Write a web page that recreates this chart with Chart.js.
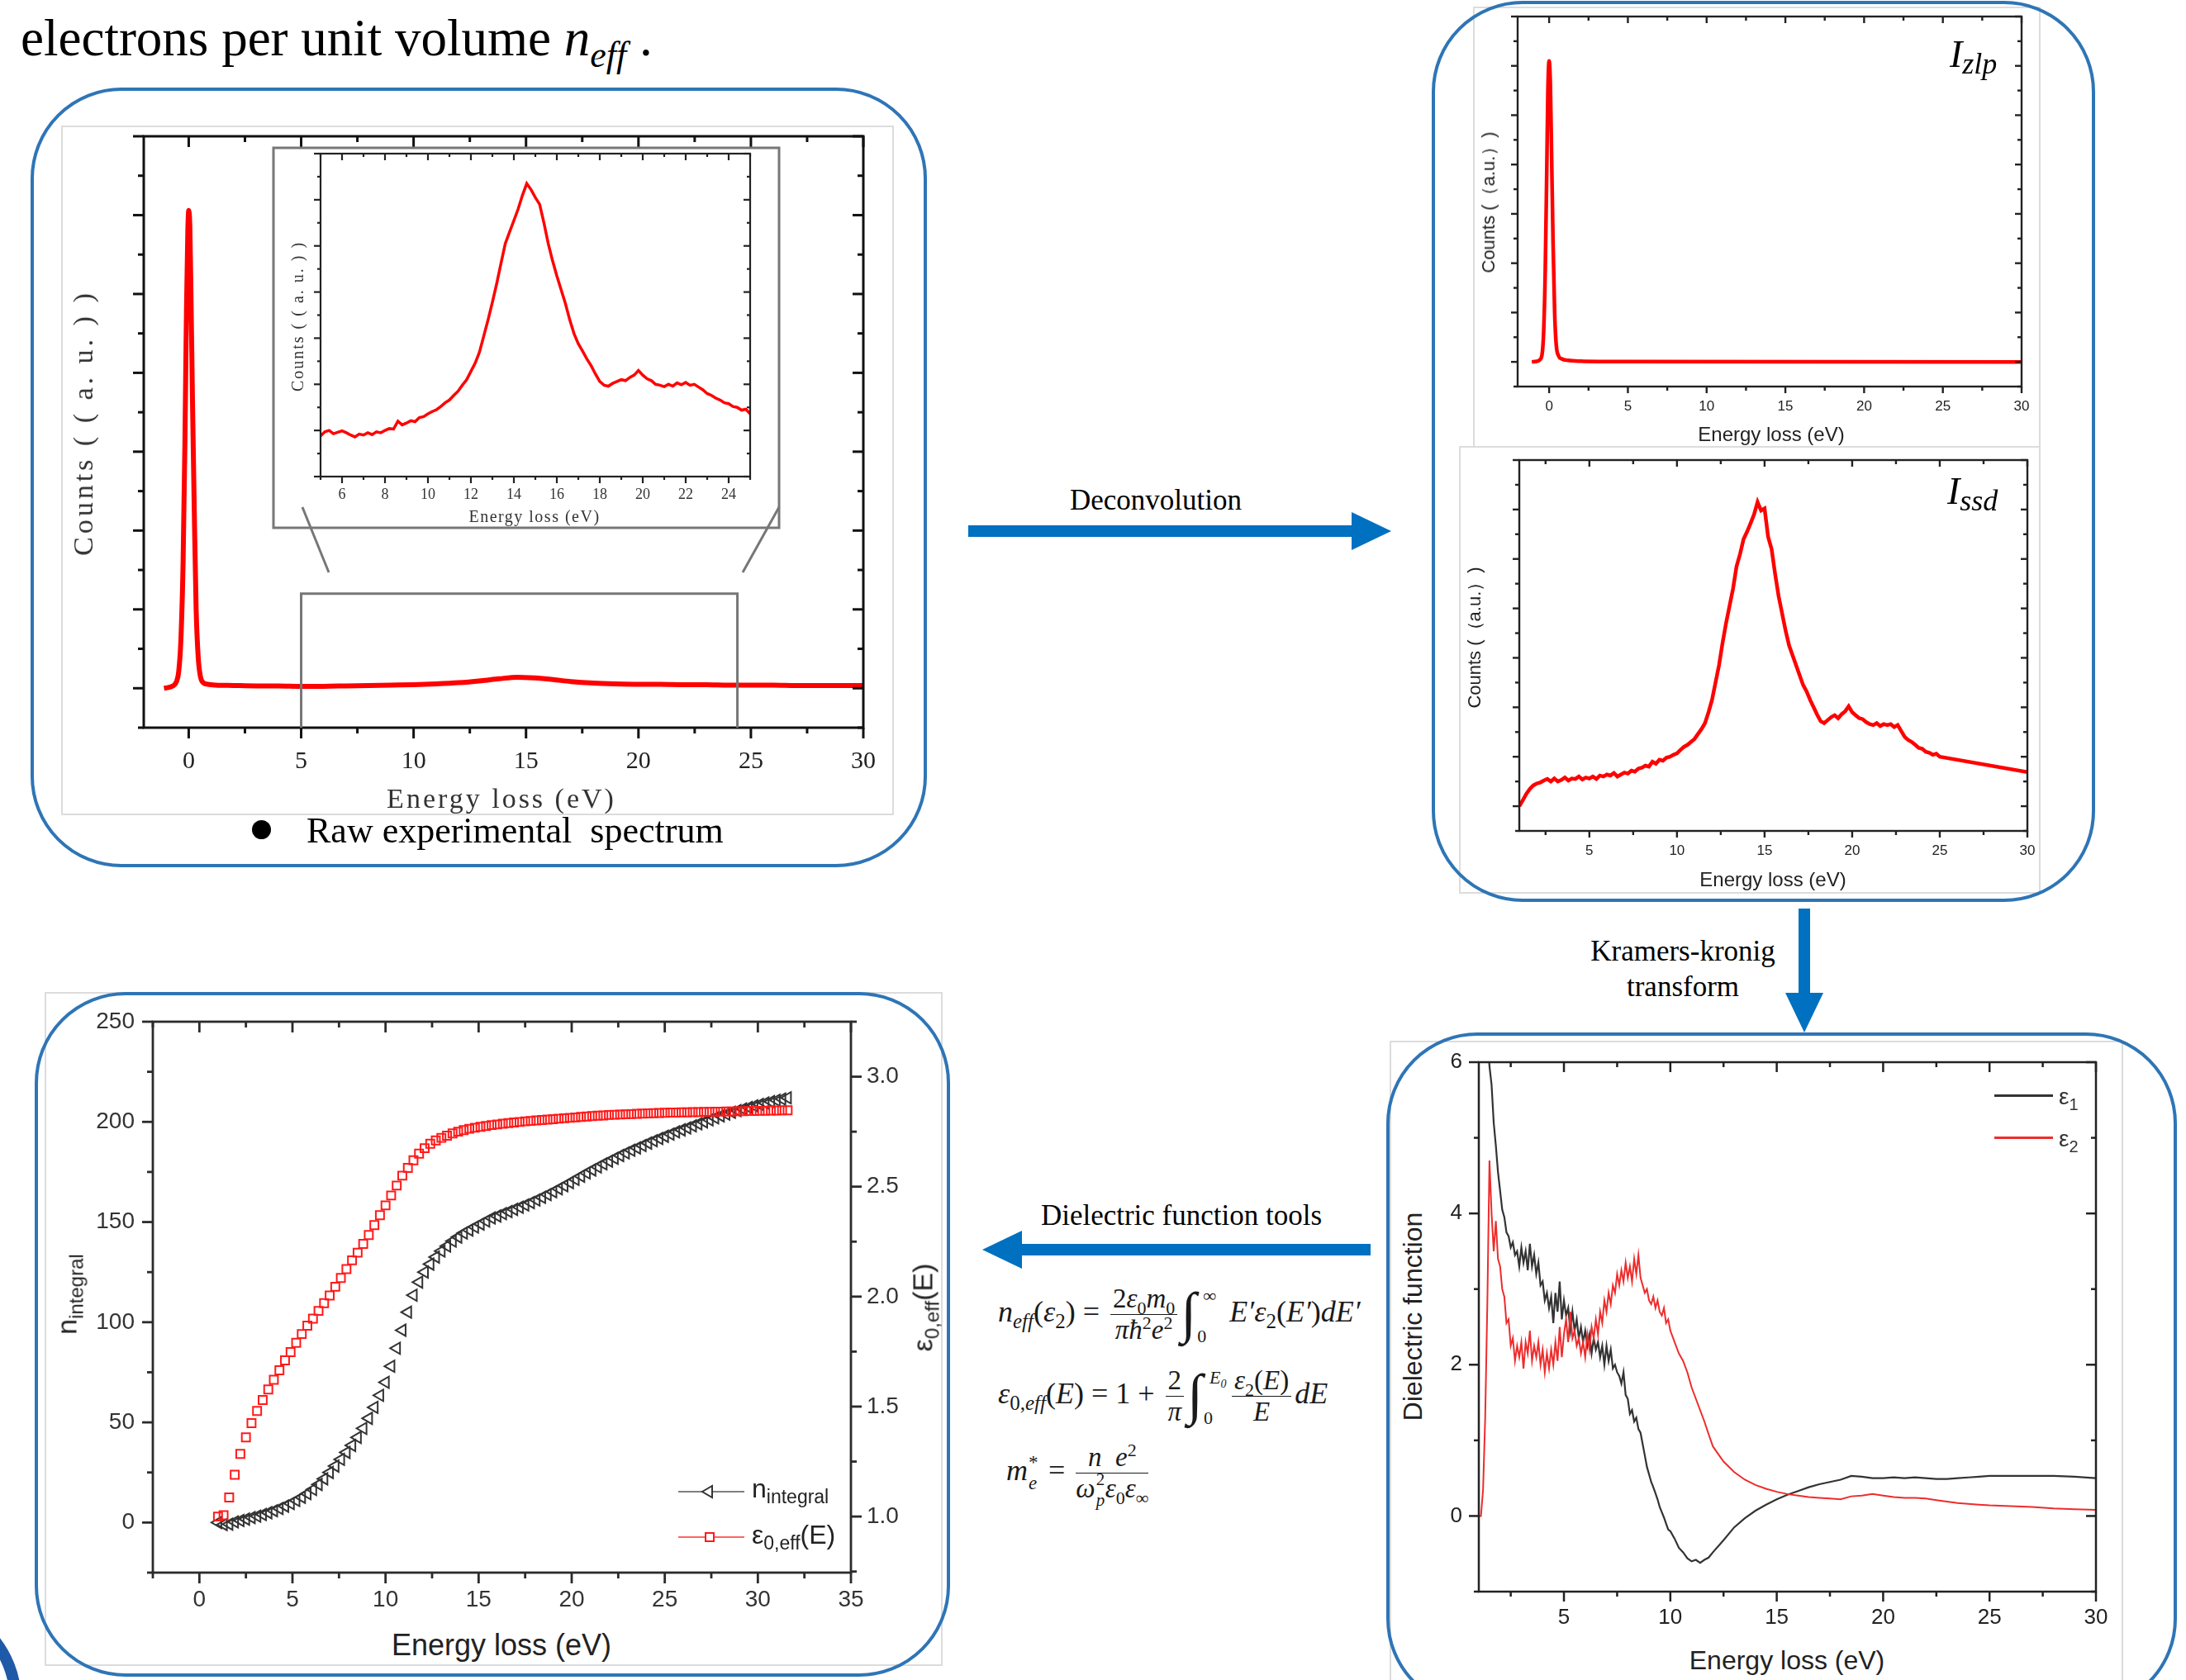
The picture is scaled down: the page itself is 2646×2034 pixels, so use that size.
<!DOCTYPE html>
<html lang="en">
<head>
<meta charset="utf-8">
<title>EELS: deconvolution and dielectric function</title>
<script src="https://cdn.jsdelivr.net/npm/chart.js@4.4.1/dist/chart.umd.min.js"></script>
<style>
  html, body { margin: 0; padding: 0; background: #fff; }
  body { position: relative; width: 2646px; height: 2034px; overflow: hidden; font-family: "Liberation Serif", "Times New Roman", serif; color: #000; }
  .abs { position: absolute; }
  .txt { position: absolute; transform: translate(-50%, -50%); white-space: nowrap; }
  .vert { position: absolute; transform: translate(-50%, -50%) rotate(-90deg); white-space: nowrap; }
  .sans { font-family: "Liberation Sans", Arial, sans-serif; }
  .panel { position: absolute; border: 4px solid #2e75b6; border-radius: 110px; box-sizing: border-box; }
  .foto { position: absolute; border: 2px solid #dcdcdc; box-sizing: border-box; }
  .caja { position: absolute; }
  .caja canvas { display: block; }
  sub, sup { line-height: 0; }
  .formula { position: absolute; font-size: 36px; white-space: nowrap; line-height: 70px; height: 70px; color: #1a1a1a; }
  .frac { display: inline-block; vertical-align: middle; text-align: center; font-size: 33px; line-height: 35px; margin: 0 4px; }
  .frac .num { display: block; border-bottom: 1.5px solid #1a1a1a; padding: 0 3px 1px 3px; }
  .frac .den { display: block; padding-top: 1px; }
  .integral { display: inline-block; position: relative; width: 50px; height: 70px; vertical-align: middle; }
  .integral .sig { position: absolute; left: 0; top: -4px; font-size: 68px; line-height: 72px; font-style: italic; }
  .integral .sup { position: absolute; left: 27px; top: 1px; font-size: 22px; line-height: 22px; font-style: italic; }
  .integral .inf { position: absolute; left: 20px; top: 50px; font-size: 22px; line-height: 22px; }
  .ss { display: inline-block; position: relative; width: 16px; height: 20px; font-size: 23px; vertical-align: baseline; }
  .ss .a { position: absolute; left: 1px; top: -13px; line-height: 23px; }
  .ss .b { position: absolute; left: 1px; top: 12px; line-height: 23px; }
</style>
</head>
<body>

<!-- texto superior -->
<div class="abs" style="left:25px; top:15px; font-size:63px; line-height:63px;">electrons per unit volume <i>n</i><sub style="font-size:44px;"><i>eff</i></sub>&nbsp;.</div>

<!-- bordes grises de las imágenes -->
<div class="foto" style="left:74px; top:152px; width:1008px; height:835px;"></div>
<div class="foto" style="left:1783px; top:8px; width:687px; height:534px; border-bottom:none;"></div>
<div class="foto" style="left:1766px; top:540px; width:704px; height:542px;"></div>
<div class="foto" style="left:54px; top:1201px; width:1087px; height:816px;"></div>
<div class="foto" style="left:1682px; top:1260px; width:888px; height:800px;"></div>

<!-- flechas -->
<svg class="abs" style="left:0; top:0;" width="2646" height="2034">
  <g fill="#0070c0">
    <rect x="1172" y="636" width="466" height="14"/>
    <polygon points="1636,620 1684,643 1636,666"/>
    <rect x="2177" y="1100" width="14" height="104"/>
    <polygon points="2161,1202 2207,1202 2184,1250"/>
    <rect x="1235" y="1506" width="424" height="14"/>
    <polygon points="1237,1490 1189,1513 1237,1536"/>
  </g>
</svg>
<div class="txt" style="left:1399px; top:606px; font-size:35px;">Deconvolution</div>
<div class="txt" style="left:2037px; top:1152px; font-size:35px;">Kramers-kronig</div>
<div class="txt" style="left:2037px; top:1195px; font-size:35px;">transform</div>
<div class="txt" style="left:1430px; top:1472px; font-size:35px;">Dielectric function tools</div>

<!-- fórmulas -->
<div class="formula" style="left:1208px; top:1553px;"><i>n<sub style="font-size:25px;">eff</sub></i>(<i>ε</i><sub style="font-size:25px;">2</sub>) = <span class="frac"><span class="num">2<i>ε</i><sub style="font-size:22px;">0</sub><i>m</i><sub style="font-size:22px;">0</sub></span><span class="den"><i>πħ</i><sup style="font-size:22px;">2</sup><i>e</i><sup style="font-size:22px;">2</sup></span></span><span class="integral"><span class="sig">∫</span><span class="sup">∞</span><span class="inf">0</span></span> <i>E′ε</i><sub style="font-size:25px;">2</sub>(<i>E′</i>)<i>dE′</i></div>
<div class="formula" style="left:1208px; top:1652px;"><i>ε</i><sub style="font-size:25px;">0,<i>eff</i></sub>(<i>E</i>) = 1 + <span class="frac"><span class="num">2</span><span class="den"><i>π</i></span></span><span class="integral"><span class="sig">∫</span><span class="sup">E<sub style="font-size:14px;">0</sub></span><span class="inf">0</span></span><span class="frac"><span class="num"><i>ε</i><sub style="font-size:22px;">2</sub>(<i>E</i>)</span><span class="den"><i>E</i></span></span><i>dE</i></div>
<div class="formula" style="left:1218px; top:1745px;"><i>m</i><span class="ss"><span class="a">*</span><span class="b"><i>e</i></span></span> = <span class="frac"><span class="num"><i>n</i>&nbsp;&nbsp;<i>e</i><sup style="font-size:22px;">2</sup></span><span class="den"><i>ω</i><span class="ss" style="font-size:21px; width:12px;"><span class="a">2</span><span class="b"><i>p</i></span></span><i>ε</i><sub style="font-size:22px;">0</sub><i>ε</i><sub style="font-size:22px;">∞</sub></span></span></div>

<!-- gráficos -->
<div class="caja" style="left:114px; top:145px; width:961px; height:806px;"><canvas id="grafRaw"></canvas></div>
<div class="caja" style="left:358px; top:171px; width:570px; height:476px;"><canvas id="grafInset"></canvas></div>
<div class="caja" style="left:1797px; top:5px; width:680px; height:523px;"><canvas id="grafZlp"></canvas></div>
<div class="caja" style="left:1799px; top:542px; width:685px; height:519px;"><canvas id="grafSsd"></canvas></div>
<div class="caja" style="left:65px; top:1217px; width:1065px; height:747px;"><canvas id="grafN"></canvas></div>
<div class="caja" style="left:1730px; top:1266px; width:847px; height:716px;"><canvas id="grafDiel"></canvas></div>

<!-- títulos del panel 1 -->
<div class="txt" style="left:607px; top:967px; font-size:34px; letter-spacing:3px; color:#333;">Energy loss (eV)</div>
<div class="vert" style="left:101px; top:512px; font-size:34px; letter-spacing:4px; color:#333;">Counts ( ( a. u. ) )</div>
<div class="txt" style="left:647px; top:625px; font-size:20px; letter-spacing:1.5px; color:#333;">Energy loss (eV)</div>
<div class="vert" style="left:360px; top:383px; font-size:20px; letter-spacing:2px; color:#333;">Counts ( ( a. u. ) )</div>
<div class="abs" style="left:305px; top:993px; width:23px; height:23px; border-radius:50%; background:#000;"></div>
<div class="abs" style="left:371px; top:984px; font-size:44px; line-height:44px;">Raw experimental&nbsp; spectrum</div>

<!-- títulos del panel 2 -->
<div class="abs" style="left:2360px; top:44px; font-size:46px; line-height:44px; font-style:italic;">I<span style="font-size:36px; position:relative; top:8px;">zlp</span></div>
<div class="abs" style="left:2357px; top:573px; font-size:46px; line-height:44px; font-style:italic;">I<span style="font-size:36px; position:relative; top:8px;">ssd</span></div>
<div class="txt sans" style="left:2144px; top:526px; font-size:24px; color:#222;">Energy loss (eV)</div>
<div class="txt sans" style="left:2146px; top:1065px; font-size:24px; color:#222;">Energy loss (eV)</div>
<div class="vert sans" style="left:1802px; top:245px; font-size:22px; color:#222;">Counts (（a.u.）)</div>
<div class="vert sans" style="left:1785px; top:772px; font-size:22px; color:#222;">Counts (（a.u.）)</div>

<!-- títulos del panel 3 -->
<div class="txt sans" style="left:607px; top:1992px; font-size:36px; color:#222;">Energy loss (eV)</div>
<div class="vert sans" style="left:81px; top:1567px; font-size:34px; color:#222;">n<sub style="font-size:24px;">integral</sub></div>
<div class="vert sans" style="left:1117px; top:1583px; font-size:34px; color:#222;">ε<sub style="font-size:24px;">0,eff</sub>(E)</div>
<svg class="abs" style="left:821px; top:1790px;" width="80" height="32">
  <line x1="0" y1="16" x2="80" y2="16" stroke="#555" stroke-width="1.5"/>
  <polygon points="29,16 41,9 41,23" fill="#fff" stroke="#333" stroke-width="2"/>
</svg>
<div class="abs sans" style="left:910px; top:1786px; font-size:32px; line-height:32px; color:#222;">n<sub style="font-size:23px;">integral</sub></div>
<svg class="abs" style="left:821px; top:1845px;" width="80" height="32">
  <line x1="0" y1="16" x2="80" y2="16" stroke="#ff3030" stroke-width="1.5"/>
  <rect x="33" y="11" width="10" height="10" fill="#fff" stroke="#ff1a1a" stroke-width="2"/>
</svg>
<div class="abs sans" style="left:910px; top:1842px; font-size:32px; line-height:32px; color:#222;">ε<sub style="font-size:23px;">0,eff</sub>(E)</div>

<!-- títulos del panel 4 -->
<div class="txt sans" style="left:2163px; top:2010px; font-size:32px; color:#222;">Energy loss (eV)</div>
<div class="vert sans" style="left:1710px; top:1594px; font-size:32px; color:#222;">Dielectric function</div>
<div class="abs" style="left:2414px; top:1325px; width:71px; height:3px; background:#333;"></div>
<div class="abs sans" style="left:2492px; top:1314px; font-size:28px; line-height:28px; color:#333;">ε<sub style="font-size:20px;">1</sub></div>
<div class="abs" style="left:2414px; top:1376px; width:71px; height:3px; background:#ee2c2c;"></div>
<div class="abs sans" style="left:2492px; top:1365px; font-size:28px; line-height:28px; color:#333;">ε<sub style="font-size:20px;">2</sub></div>

<!-- recuadros azules -->
<div class="panel" style="left:37px; top:106px; width:1085px; height:944px;"></div>
<div class="panel" style="left:1733px; top:1px; width:803px; height:1091px;"></div>
<div class="panel" style="left:42px; top:1201px; width:1108px; height:829px;"></div>
<div class="panel" style="left:1678px; top:1250px; width:957px; height:820px;"></div>
<div class="abs" style="left:-226px; top:1934px; width:252px; height:252px; border-radius:50%; border:14px solid #1f5aa8; box-sizing:border-box;"></div>

<script>
// ---------------- Datos ----------------
// Espectro experimental completo (eV, cuentas relativas)
const ticksRawX = [0, 5, 10, 15, 20, 25, 30];
const ticksRawY = [0, 1, 2, 3, 4, 5, 6, 7];
const rawE = [-1.1, -0.9, -0.7, -0.55, -0.45, -0.35, -0.25, -0.17, -0.1, -0.04,
  0, 0.05, 0.1, 0.17, 0.25, 0.33, 0.42, 0.52, 0.65, 0.85,
  1.2, 2, 3, 4, 5, 6, 7, 8, 9, 10,
  11, 12, 13, 13.8, 14.6, 15.4, 16.2, 17, 18, 19,
  20, 21, 22, 23, 24, 25, 26, 27, 28, 29, 30];
const rawI = [0.00, 0.01, 0.03, 0.08, 0.2, 0.6, 1.6, 3.1, 4.8, 5.8,
  6.06, 5.85, 5.0, 3.6, 2.2, 1.0, 0.4, 0.15, 0.07, 0.05,
  0.04, 0.035, 0.03, 0.03, 0.025, 0.025, 0.03, 0.035, 0.04, 0.045,
  0.055, 0.07, 0.095, 0.12, 0.14, 0.13, 0.11, 0.085, 0.065, 0.055,
  0.05, 0.05, 0.045, 0.045, 0.04, 0.04, 0.04, 0.035, 0.035, 0.035, 0.035];

// Recuadro ampliado 5-25 eV
const ticksInsetX = [6, 8, 10, 12, 14, 16, 18, 20, 22, 24];
const ticksInsetY = [0, 1, 2, 3, 4, 5, 6, 7];
const insetE = [5.0, 5.2, 5.4, 5.6, 5.8, 6.0, 6.2, 6.4, 6.6, 6.8,
  7.0, 7.2, 7.4, 7.6, 7.8, 8.0, 8.2, 8.4, 8.6, 8.8,
  9.0, 9.2, 9.4, 9.6, 9.8, 10.0, 10.2, 10.4, 10.6, 10.8,
  11.0, 11.2, 11.4, 11.6, 11.8, 12.0, 12.2, 12.4, 12.6, 12.8,
  13.0, 13.2, 13.4, 13.6, 13.8, 14.0, 14.2, 14.4, 14.6, 14.8,
  15.0, 15.2, 15.4, 15.6, 15.8, 16.0, 16.2, 16.4, 16.6, 16.8,
  17.0, 17.2, 17.4, 17.6, 17.8, 18.0, 18.2, 18.4, 18.6, 18.8,
  19.0, 19.2, 19.4, 19.6, 19.8, 20.0, 20.2, 20.4, 20.6, 20.8,
  21.0, 21.2, 21.4, 21.6, 21.8, 22.0, 22.2, 22.4, 22.6, 22.8,
  23.0, 23.2, 23.4, 23.6, 23.8, 24.0, 24.2, 24.4, 24.6, 24.8, 25.0];
const insetI = [0.88, 0.97, 1.00, 0.93, 0.96, 0.99, 0.95, 0.90, 0.86, 0.92,
  0.90, 0.95, 0.91, 0.97, 0.95, 1.00, 1.04, 1.03, 1.20, 1.12,
  1.16, 1.21, 1.19, 1.28, 1.30, 1.36, 1.41, 1.45, 1.52, 1.60,
  1.66, 1.76, 1.85, 1.98, 2.10, 2.28, 2.46, 2.70, 3.05, 3.40,
  3.78, 4.18, 4.62, 5.05, 5.30, 5.55, 5.80, 6.10, 6.35, 6.22,
  6.05, 5.90, 5.50, 5.05, 4.68, 4.35, 4.05, 3.75, 3.40, 3.10,
  2.88, 2.72, 2.55, 2.40, 2.22, 2.06, 1.98, 1.96, 2.02, 2.06,
  2.10, 2.08, 2.15, 2.20, 2.30, 2.20, 2.12, 2.08, 2.00, 1.98,
  1.95, 2.00, 1.96, 2.03, 1.99, 2.04, 1.98, 2.00, 1.94, 1.88,
  1.80, 1.76, 1.70, 1.66, 1.60, 1.58, 1.52, 1.50, 1.44, 1.46, 1.36];

// Pico elástico (zero loss peak)
const ticksZlpX = [0, 5, 10, 15, 20, 25, 30];
const ticksZlpY = [0, 1, 2, 3, 4, 5, 6, 7];
const zlpE = [-1.1, -0.8, -0.6, -0.45, -0.35, -0.25, -0.15, -0.08, 0, 0.08, 0.15, 0.25, 0.35, 0.45, 0.6, 0.8, 1.2, 2, 5, 30];
const zlpI = [0, 0.01, 0.04, 0.15, 0.6, 1.8, 3.9, 5.5, 6.1, 5.6, 4.3, 2.4, 1.0, 0.35, 0.12, 0.06, 0.03, 0.015, 0.005, 0];

// Distribución de dispersión simple (single scattering)
const ticksSsdX = [5, 10, 15, 20, 25, 30];
const ticksSsdY = [0, 1, 2, 3, 4, 5, 6, 7];
const ssdE = [1.0, 1.2, 1.4, 1.6, 1.8, 2.0, 2.2, 2.4, 2.6, 2.8,
  3.0, 3.2, 3.4, 3.6, 3.8, 4.0, 4.2, 4.4, 4.6, 4.8,
  5.0, 5.2, 5.4, 5.6, 5.8, 6.0, 6.2, 6.4, 6.6, 6.8,
  7.0, 7.2, 7.4, 7.6, 7.8, 8.0, 8.2, 8.4, 8.6, 8.8,
  9.0, 9.2, 9.4, 9.6, 9.8, 10.0, 10.2, 10.4, 10.6, 10.8,
  11.0, 11.2, 11.4, 11.6, 11.8, 12.0, 12.2, 12.4, 12.6, 12.8,
  13.0, 13.2, 13.4, 13.6, 13.8, 14.0, 14.2, 14.4, 14.6, 14.8,
  15.0, 15.2, 15.4, 15.6, 15.8, 16.0, 16.2, 16.4, 16.6, 16.8,
  17.0, 17.2, 17.4, 17.6, 17.8, 18.0, 18.2, 18.4, 18.6, 18.8,
  19.0, 19.2, 19.4, 19.6, 19.8, 20.0, 20.2, 20.4, 20.6, 20.8,
  21.0, 21.2, 21.4, 21.6, 21.8, 22.0, 22.2, 22.4, 22.6, 22.8,
  23.0, 23.2, 23.4, 23.6, 23.8, 24.0, 24.2, 24.4, 24.6, 24.8,
  25.0, 30.0];
const ssdI = [0.00, 0.12, 0.25, 0.35, 0.42, 0.46, 0.48, 0.52, 0.55, 0.50,
  0.56, 0.50, 0.53, 0.58, 0.52, 0.56, 0.55, 0.60, 0.54, 0.58,
  0.56, 0.60, 0.55, 0.62, 0.60, 0.64, 0.62, 0.67, 0.60, 0.64,
  0.68, 0.66, 0.72, 0.70, 0.76, 0.78, 0.82, 0.80, 0.90, 0.86,
  0.94, 0.92, 0.98, 1.00, 1.04, 1.07, 1.14, 1.20, 1.24, 1.30,
  1.36, 1.46, 1.56, 1.68, 1.90, 2.15, 2.50, 2.85, 3.30, 3.70,
  4.05, 4.40, 4.85, 5.10, 5.40, 5.55, 5.72, 5.90, 6.15, 5.98,
  6.02, 5.45, 5.20, 4.70, 4.25, 3.90, 3.55, 3.25, 3.05, 2.85,
  2.65, 2.45, 2.32, 2.15, 2.00, 1.85, 1.72, 1.68, 1.74, 1.80,
  1.84, 1.78, 1.86, 1.92, 2.02, 1.90, 1.84, 1.78, 1.76, 1.70,
  1.66, 1.64, 1.68, 1.62, 1.66, 1.64, 1.66, 1.60, 1.64, 1.52,
  1.40, 1.34, 1.30, 1.24, 1.18, 1.16, 1.10, 1.08, 1.04, 1.06,
  1.00, 0.69];

// n integral y epsilon efectiva
const ticksNX = [0, 5, 10, 15, 20, 25, 30, 35];
const ticksNY = [0, 50, 100, 150, 200, 250];
const ticksEpsY = [1.0, 1.5, 2.0, 2.5, 3.0];
const energiaN = [1.0, 1.3, 1.6, 1.9, 2.2, 2.5, 2.8, 3.1, 3.4, 3.7,
  4.0, 4.3, 4.6, 4.9, 5.2, 5.5, 5.8, 6.1, 6.4, 6.7,
  7.0, 7.3, 7.6, 7.9, 8.2, 8.5, 8.8, 9.1, 9.4, 9.7,
  10.0, 10.3, 10.6, 10.9, 11.2, 11.5, 11.8, 12.1, 12.4, 12.7,
  13.0, 13.3, 13.6, 13.9, 14.2, 14.5, 14.8, 15.1, 15.4, 15.7,
  16.0, 16.3, 16.6, 16.9, 17.2, 17.5, 17.8, 18.1, 18.4, 18.7,
  19.0, 19.3, 19.6, 19.9, 20.2, 20.5, 20.8, 21.1, 21.4, 21.7,
  22.0, 22.3, 22.6, 22.9, 23.2, 23.5, 23.8, 24.1, 24.4, 24.7,
  25.0, 25.3, 25.6, 25.9, 26.2, 26.5, 26.8, 27.1, 27.4, 27.7,
  28.0, 28.3, 28.6, 28.9, 29.2, 29.5, 29.8, 30.1, 30.4, 30.7,
  31.0, 31.3, 31.6];
const nIntegral = [0, -1, -0.8, 0.3, 1.0, 1.7, 2.5, 3.2, 4.0, 4.9,
  5.9, 7.0, 8.2, 9.5, 11, 12.6, 14.4, 16.5, 19, 21.8,
  25, 28.2, 31.5, 35, 38.5, 42.5, 47, 52, 57.5, 63.5,
  70, 78, 87, 96, 105, 113.5, 120, 125, 129, 132.5,
  135.5, 138, 140.5, 142.5, 144.5, 146, 147.5, 149, 150.5, 152,
  153, 154.2, 155.2, 156.3, 157.4, 158.5, 159.7, 161, 162.3, 163.7,
  165.1, 166.6, 168.1, 169.7, 171.3, 172.9, 174.5, 176, 177.5, 179,
  180.4, 181.8, 183.2, 184.5, 185.8, 187, 188.2, 189.4, 190.6, 191.7,
  192.8, 193.9, 195, 196, 197, 198, 199, 200, 201, 202,
  203, 203.9, 204.8, 205.6, 206.4, 207.2, 208, 208.7, 209.4, 210.1,
  210.8, 211.4, 212];
const eps0Eff = [1.0, 1.006, 1.087, 1.19, 1.285, 1.36, 1.425, 1.48, 1.53, 1.578,
  1.622, 1.665, 1.71, 1.748, 1.79, 1.83, 1.868, 1.9, 1.935, 1.97,
  2.005, 2.045, 2.085, 2.125, 2.165, 2.2, 2.24, 2.28, 2.325, 2.37,
  2.415, 2.46, 2.505, 2.55, 2.585, 2.62, 2.65, 2.675, 2.695, 2.71,
  2.722, 2.732, 2.742, 2.75, 2.757, 2.763, 2.768, 2.772, 2.776, 2.78,
  2.783, 2.786, 2.789, 2.792, 2.794, 2.797, 2.799, 2.801, 2.803, 2.805,
  2.807, 2.809, 2.811, 2.813, 2.815, 2.817, 2.819, 2.821, 2.823, 2.824,
  2.826, 2.827, 2.828, 2.829, 2.83, 2.831, 2.832, 2.833, 2.834, 2.835,
  2.836, 2.837, 2.837, 2.838, 2.838, 2.839, 2.839, 2.84, 2.84, 2.841,
  2.841, 2.842, 2.842, 2.843, 2.843, 2.844, 2.844, 2.845, 2.845, 2.846,
  2.846, 2.847, 2.847];

// Función dieléctrica (epsilon 1 y epsilon 2)
const ticksDielX = [5, 10, 15, 20, 25, 30];
const ticksDielY = [0, 2, 4, 6];
const dielE = [1.0, 1.1, 1.2, 1.3, 1.4, 1.5, 1.6, 1.7, 1.8, 1.9,
  2.0, 2.1, 2.2, 2.3, 2.4, 2.5, 2.6, 2.7, 2.8, 2.9,
  3.0, 3.1, 3.2, 3.3, 3.4, 3.5, 3.6, 3.7, 3.8, 3.9,
  4.0, 4.1, 4.2, 4.3, 4.4, 4.5, 4.6, 4.7, 4.8, 4.9,
  5.0, 5.1, 5.2, 5.3, 5.4, 5.5, 5.6, 5.7, 5.8, 5.9,
  6.0, 6.1, 6.2, 6.3, 6.4, 6.5, 6.6, 6.7, 6.8, 6.9,
  7.0, 7.1, 7.2, 7.3, 7.4, 7.5, 7.6, 7.7, 7.8, 7.9,
  8.0, 8.1, 8.2, 8.3, 8.4, 8.5, 8.6, 8.7, 8.8, 8.9,
  9.0, 9.1, 9.2, 9.3, 9.4, 9.5, 9.6, 9.7, 9.8, 9.9,
  10.0, 10.2, 10.4, 10.6, 10.8, 11.0, 11.2, 11.4, 11.6, 11.8,
  12.0, 12.5, 13.0, 13.5, 14.0, 14.5, 15.0, 15.5, 16.0, 16.5,
  17.0, 17.5, 18.0, 18.5, 19.0, 19.5, 20.0, 20.5, 21.0, 21.5,
  22.0, 22.5, 23.0, 23.5, 24.0, 24.5, 25.0, 26.0, 27.0, 28.0,
  29.0, 30.0];
const eps1 = [null, null, null, 7.5, 6.4, 5.95, 5.7, 5.2, 4.9, 4.55,
  4.3, 4.05, 3.95, 3.75, 3.7, 3.55, 3.62, 3.45, 3.5, 3.3,
  3.55, 3.35, 3.5, 3.25, 3.6, 3.3, 3.45, 3.2, 3.35, 3.05,
  3.1, 2.85, 2.95, 2.75, 2.9, 2.55, 2.95, 2.7, 3.1, 2.6,
  2.85, 2.65, 2.75, 2.45, 2.7, 2.45, 2.6, 2.35, 2.5, 2.3,
  2.45, 2.25, 2.4, 2.15, 2.35, 2.2, 2.3, 2.1, 2.25, 2.0,
  2.25, 2.05, 2.2, 1.95, 2.0, 1.9, 1.85, 1.75, 1.9, 1.6,
  1.55, 1.35, 1.4, 1.25, 1.3, 1.15, 1.1, 0.95, 0.8, 0.65,
  0.55, 0.45, 0.38, 0.3, 0.22, 0.12, 0.05, -0.02, -0.1, -0.18,
  -0.2, -0.3, -0.42, -0.48, -0.56, -0.6, -0.58, -0.62, -0.58, -0.55,
  -0.48, -0.32, -0.15, -0.03, 0.07, 0.15, 0.22, 0.28, 0.33, 0.38,
  0.42, 0.45, 0.48, 0.53, 0.52, 0.5, 0.5, 0.51, 0.5, 0.51,
  0.5, 0.49, 0.49, 0.5, 0.51, 0.52, 0.53, 0.53, 0.53, 0.53,
  0.52, 0.5];
const eps2 = [0.0, 0.0, 0.35, 1.3, 2.8, 4.7, 4.0, 3.5, 3.9, 3.4,
  3.3, 3.0, 2.9, 2.55, 2.6, 2.25, 2.35, 2.05, 2.25, 2.1,
  2.3, 1.95, 2.3, 2.15, 2.45, 2.05, 2.25, 2.1, 2.3, 2.0,
  2.2, 1.9, 2.15, 1.95, 2.2, 2.0, 2.3, 2.05, 2.5, 2.1,
  2.4, 2.6, 2.3, 2.7, 2.35, 2.45, 2.25, 2.35, 2.15, 2.3,
  2.1, 2.4, 2.2, 2.5, 2.35, 2.6, 2.4, 2.7, 2.55, 2.85,
  2.7, 2.95, 2.8, 3.05, 2.95, 3.2, 3.05, 3.25, 3.1, 3.35,
  3.15, 3.3, 3.1, 3.4, 3.2, 3.45, 3.15, 3.05, 2.95, 3.0,
  2.85, 2.8, 2.9, 2.75, 2.85, 2.7, 2.65, 2.75, 2.55, 2.6,
  2.45, 2.3, 2.15, 2.05, 1.9, 1.7, 1.55, 1.4, 1.25, 1.08,
  0.92, 0.72, 0.58, 0.48, 0.41, 0.36, 0.32, 0.29, 0.27, 0.25,
  0.24, 0.23, 0.22, 0.26, 0.27, 0.29, 0.27, 0.25, 0.24, 0.24,
  0.23, 0.21, 0.19, 0.17, 0.16, 0.15, 0.14, 0.13, 0.12, 0.1,
  0.09, 0.08];

// ---------------- Utilidades ----------------
const fuenteSerif = 'Liberation Serif';
const fuenteSans = 'Liberation Sans';

function pares(xs, ys) {
  return xs.map(function (x, i) { return { x: x, y: ys[i] }; });
}

// Escala lineal con marcas fijas y tamaño de caja fijo
function escala(min, max, marcas, o) {
  const s = {
    type: 'linear', min: min, max: max, position: o.posicion,
    grid: { display: false, drawTicks: false },
    border: { display: false },
    afterBuildTicks: function (sc) { sc.ticks = marcas.map(function (v) { return { value: v }; }); },
    afterFit: function (sc) {
      if (sc.isHorizontal()) { sc.height = o.tam; } else { sc.width = o.tam; }
      // sin relleno extra: el área del gráfico queda donde la ponemos
      sc.paddingTop = 0; sc.paddingBottom = 0; sc.paddingLeft = 0; sc.paddingRight = 0;
    },
    ticks: {
      display: o.etiquetas !== false, autoSkip: false, maxRotation: 0,
      padding: o.padding || 0, color: o.color || '#222',
      font: { family: o.familia || fuenteSans, size: o.talla || 20 }
    }
  };
  if (o.formato) s.ticks.callback = o.formato;
  return s;
}

// Marco tipo Origin: caja y marcas mayores/menores en los cuatro lados
const marcoEjes = {
  id: 'marcoEjes',
  afterDatasetsDraw: function (chart, args, op) {
    const ctx = chart.ctx, a = chart.chartArea;
    ctx.save();
    ctx.strokeStyle = op.color;
    ctx.lineWidth = op.ancho;
    ctx.strokeRect(a.left, a.top, a.right - a.left, a.bottom - a.top);
    (op.marcas || []).forEach(function (m) {
      const sc = chart.scales[m.eje];
      const menor = m.paso / 2;
      for (let k = Math.ceil(sc.min / menor - 1e-6); k * menor <= sc.max + 1e-6; k++) {
        const mayor = k % 2 === 0;
        const largo = mayor ? op.mayor : op.menor;
        const p = sc.getPixelForValue(k * menor);
        m.lados.forEach(function (l) {
          ctx.beginPath();
          if (l[0] === 'bottom') { ctx.moveTo(p, a.bottom); ctx.lineTo(p, a.bottom + l[1] * largo); }
          if (l[0] === 'top') { ctx.moveTo(p, a.top); ctx.lineTo(p, a.top - l[1] * largo); }
          if (l[0] === 'left') { ctx.moveTo(a.left, p); ctx.lineTo(a.left - l[1] * largo, p); }
          if (l[0] === 'right') { ctx.moveTo(a.right, p); ctx.lineTo(a.right + l[1] * largo, p); }
          ctx.stroke();
        });
      }
    });
    ctx.restore();
  }
};

// Marco gris del recuadro ampliado y líneas de conexión (solo gráfico principal)
const recuadroInset = {
  id: 'recuadroInset',
  afterDatasetsDraw: function (chart) {
    const ctx = chart.ctx, a = chart.chartArea, sx = chart.scales.x, sy = chart.scales.y;
    ctx.save();
    ctx.strokeStyle = '#777';
    ctx.lineWidth = 3;
    ctx.strokeRect(217, 34, 612, 460);
    const x0 = sx.getPixelForValue(5), x1 = sx.getPixelForValue(24.4), y1 = sy.getPixelForValue(1.2);
    ctx.beginPath();
    ctx.moveTo(x0, a.bottom); ctx.lineTo(x0, y1); ctx.lineTo(x1, y1); ctx.lineTo(x1, a.bottom);
    ctx.stroke();
    ctx.beginPath();
    ctx.moveTo(252, 469); ctx.lineTo(284, 548);
    ctx.moveTo(829, 469); ctx.lineTo(785, 548);
    ctx.stroke();
    ctx.restore();
  }
};

function grafico(id, datasets, escalas, padding, marco, extra) {
  return new Chart(document.getElementById(id), {
    type: 'line',
    data: { datasets: datasets },
    options: {
      responsive: true, maintainAspectRatio: false, animation: false, events: [],
      layout: { padding: padding },
      scales: escalas,
      elements: { point: { radius: 0 } },
      plugins: { legend: { display: false }, tooltip: { enabled: false }, marcoEjes: marco }
    },
    plugins: [marcoEjes].concat(extra || [])
  });
}

const ladosX = [['bottom', 1], ['top', -1]];
const ladosY = [['left', 1], ['right', -1]];

// ---------------- Panel 1: espectro experimental ----------------
grafico('grafRaw',
  [{ data: pares(rawE, rawI), borderColor: '#ff0000', borderWidth: 6, cubicInterpolationMode: 'monotone', fill: false }],
  {
    x: escala(-2, 30, ticksRawX, { posicion: 'bottom', tam: 70, padding: 23, familia: fuenteSerif, talla: 30, color: '#222' }),
    y: escala(-0.5, 7, ticksRawY, { posicion: 'left', tam: 60, etiquetas: false })
  },
  { left: 0, top: 20, right: 30, bottom: 0 },
  { color: '#111', ancho: 3, mayor: 13, menor: 7, marcas: [{ eje: 'x', paso: 5, lados: ladosX }, { eje: 'y', paso: 1, lados: ladosY }] },
  [recuadroInset]);

grafico('grafInset',
  [{ data: pares(insetE, insetI), borderColor: '#ff0000', borderWidth: 3.5, tension: 0, fill: false }],
  {
    x: escala(5, 25, ticksInsetX, { posicion: 'bottom', tam: 70, padding: 11, familia: fuenteSerif, talla: 18, color: '#333' }),
    y: escala(0, 7, ticksInsetY, { posicion: 'left', tam: 30, etiquetas: false })
  },
  { left: 0, top: 15, right: 20, bottom: 0 },
  { color: '#222', ancho: 2.2, mayor: 8, menor: 4, marcas: [{ eje: 'x', paso: 2, lados: ladosX }, { eje: 'y', paso: 1, lados: ladosY }] });

// ---------------- Panel 2: deconvolución ----------------
grafico('grafZlp',
  [{ data: pares(zlpE, zlpI), borderColor: '#ff0000', borderWidth: 4.5, cubicInterpolationMode: 'monotone', fill: false }],
  {
    x: escala(-2, 30, ticksZlpX, { posicion: 'bottom', tam: 60, padding: 14, talla: 17, color: '#222' }),
    y: escala(-0.5, 7, ticksZlpY, { posicion: 'left', tam: 40, etiquetas: false })
  },
  { left: 0, top: 15, right: 30, bottom: 0 },
  { color: '#222', ancho: 2.4, mayor: 8, menor: 5, marcas: [{ eje: 'x', paso: 5, lados: ladosX }, { eje: 'y', paso: 1, lados: ladosY }] });

grafico('grafSsd',
  [{ data: pares(ssdE, ssdI), borderColor: '#ff0000', borderWidth: 4.5, tension: 0, fill: false }],
  {
    x: escala(1, 30, ticksSsdX, { posicion: 'bottom', tam: 55, padding: 14, talla: 17, color: '#222' }),
    y: escala(-0.5, 7, ticksSsdY, { posicion: 'left', tam: 40, etiquetas: false })
  },
  { left: 0, top: 15, right: 30, bottom: 0 },
  { color: '#222', ancho: 2.4, mayor: 8, menor: 5, marcas: [{ eje: 'x', paso: 5, lados: ladosX }, { eje: 'y', paso: 1, lados: ladosY }] });

// ---------------- Panel 3: n integral y epsilon efectiva ----------------
grafico('grafN',
  [
    { data: pares(energiaN, eps0Eff), yAxisID: 'y2', showLine: false, pointStyle: 'rect', pointRadius: 7,
      pointBorderColor: '#ff1a1a', pointBackgroundColor: 'rgba(255,255,255,0)', pointBorderWidth: 2 },
    { data: pares(energiaN, nIntegral), yAxisID: 'y', showLine: false, pointStyle: 'triangle', rotation: -90, pointRadius: 8,
      pointBorderColor: '#333', pointBackgroundColor: 'rgba(255,255,255,0)', pointBorderWidth: 2 }
  ],
  {
    x: escala(-2.5, 35, ticksNX, { posicion: 'bottom', tam: 60, padding: 16, talla: 28, color: '#333' }),
    y: escala(-25, 250, ticksNY, { posicion: 'left', tam: 120, padding: 22, talla: 28, color: '#333' }),
    y2: escala(0.745, 3.25, ticksEpsY, { posicion: 'right', tam: 100, padding: 19, talla: 28, color: '#333',
      formato: function (v) { return v.toFixed(1); } })
  },
  { left: 0, top: 20, right: 0, bottom: 0 },
  { color: '#2b2b2b', ancho: 2.8, mayor: 13, menor: 7, marcas: [
    { eje: 'x', paso: 5, lados: ladosX },
    { eje: 'y', paso: 50, lados: [['left', 1]] },
    { eje: 'y2', paso: 0.5, lados: [['right', 1]] }] });

// ---------------- Panel 4: función dieléctrica ----------------
grafico('grafDiel',
  [
    { data: pares(dielE, eps2), borderColor: '#ee2c2c', borderWidth: 2, tension: 0, fill: false },
    { data: pares(dielE, eps1), borderColor: '#333333', borderWidth: 2.2, tension: 0, fill: false }
  ],
  {
    x: escala(1, 30, ticksDielX, { posicion: 'bottom', tam: 55, padding: 16, talla: 26, color: '#222' }),
    y: escala(-1, 6, ticksDielY, { posicion: 'left', tam: 60, padding: 20, talla: 26, color: '#222' })
  },
  { left: 0, top: 20, right: 40, bottom: 0 },
  { color: '#222', ancho: 2.5, mayor: 12, menor: 6, marcas: [{ eje: 'x', paso: 5, lados: ladosX }, { eje: 'y', paso: 2, lados: ladosY }] });
</script>
</body>
</html>
